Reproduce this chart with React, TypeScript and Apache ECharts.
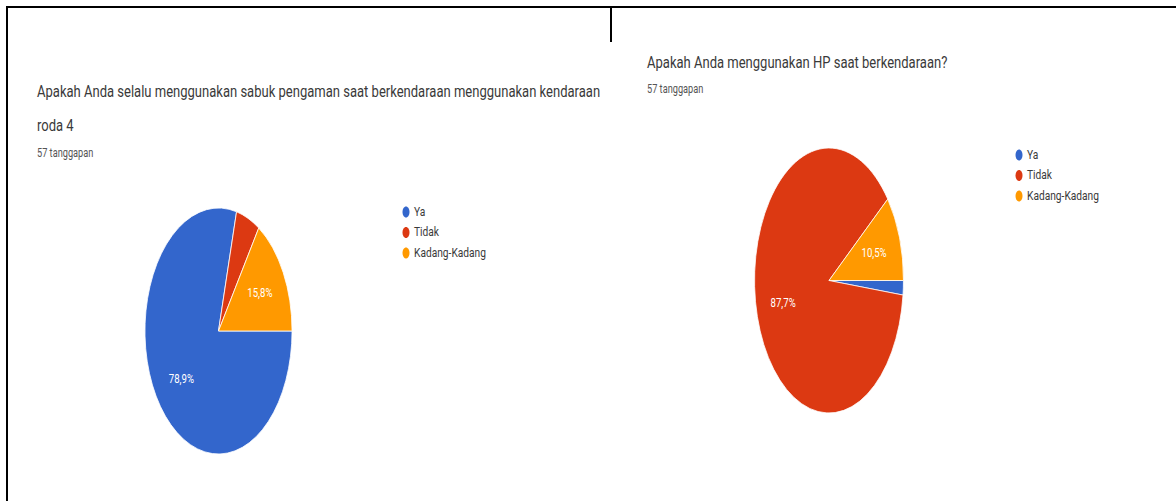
import React, { useEffect, useRef } from "react";
import * as echarts from "echarts";

// ---------- data ----------
const categories = ["Ya", "Tidak", "Kadang-Kadang"];
const seatbeltCounts = [45, 3, 9];
const phoneCounts = [1, 50, 6];
const sliceColors = ["#3366cc", "#dc3912", "#ff9900"];
const seatbeltTitleLines = [
  "Apakah Anda selalu menggunakan sabuk pengaman saat berkendaraan menggunakan kendaraan",
  "roda 4",
];
const phoneTitleLines = ["Apakah Anda menggunakan HP saat berkendaraan?"];
const responsesText = "57 tanggapan";

// ---------- layout ----------
const FONT = "Roboto, 'Noto Sans', sans-serif";
const measureCtx = (typeof document !== "undefined"
  ? document.createElement("canvas").getContext("2d")
  : null) as CanvasRenderingContext2D | null;

function textWidth(text: string, size: number): number {
  if (!measureCtx) return text.length * size * 0.5;
  measureCtx.font = `${size}px Roboto`;
  return measureCtx.measureText(text).width;
}

function pct(v: number, total: number): string {
  return (Math.round((v / total) * 1000) / 10).toFixed(1).replace(".", ",") + "%";
}

function pieSeries(
  counts: number[],
  cx: number,
  cy: number,
  rx: number,
  ry: number,
  labelScale: number
) {
  const total = counts.reduce((a, b) => a + b, 0);
  return {
    type: "custom",
    coordinateSystem: "none",
    silent: true,
    data: counts.map((v, i) => ({ value: v, name: categories[i] })),
    renderItem: (params: any, api: any) => {
      const i = params.dataIndex;
      let before = 0;
      for (let k = 0; k < i; k++) before += counts[k];
      const v = api.value(0);
      const a0 = (before / total) * Math.PI * 2;
      const a1 = ((before + v) / total) * Math.PI * 2;
      const children: any[] = [
        {
          type: "sector",
          x: cx,
          y: cy,
          scaleX: rx / ry,
          shape: { cx: 0, cy: 0, r0: 0, r: ry, startAngle: a0, endAngle: a1, clockwise: true },
          style: { fill: sliceColors[i], stroke: "#ffffff", lineWidth: 1, strokeNoScale: true },
        },
      ];
      if (v / total >= 0.08) {
        const m = (a0 + a1) / 2;
        const f = 0.64;
        children.push({
          type: "text",
          x: cx + rx * f * Math.cos(m),
          y: cy + ry * f * Math.sin(m),
          scaleX: labelScale,
          style: {
            text: pct(v, total),
            fill: "#ffffff",
            fontSize: 12,
            fontFamily: FONT,
            align: "center",
            verticalAlign: "middle",
          },
        });
      }
      return { type: "group", children };
    },
  };
}

export default function App() {
  const ref = useRef<HTMLDivElement>(null);

  useEffect(() => {
    if (!ref.current) return;
    const chart = echarts.init(ref.current, undefined, { renderer: "svg" });

    const titleSize = 17;
    const titleScale = 564 / textWidth(seatbeltTitleLines[0], titleSize);
    const subSize = 12;
    const legendSize = 12;
    const legendScale = 72 / textWidth(categories[2], legendSize);
    const labelScale = 0.8;

    const texts: any[] = [];
    const addText = (t: string, x: number, y: number, size: number, color: string, sc: number) =>
      texts.push({
        type: "text",
        x,
        y,
        scaleX: sc,
        silent: true,
        style: { text: t, fill: color, fontSize: size, fontFamily: FONT, verticalAlign: "middle" },
      });

    // left panel texts
    addText(seatbeltTitleLines[0], 37, 91, titleSize, "#3a3a3a", titleScale);
    addText(seatbeltTitleLines[1], 37, 125, titleSize, "#3a3a3a", titleScale);
    addText(responsesText, 37, 153, subSize, "#555555", titleScale);
    // right panel texts
    addText(phoneTitleLines[0], 647, 62, titleSize, "#3a3a3a", titleScale);
    addText(responsesText, 647, 89, subSize, "#555555", titleScale);

    // legends
    const legendAt = (x: number, y0: number) => {
      categories.forEach((c, i) => {
        const y = y0 + i * 20.5;
        texts.push({
          type: "ellipse",
          silent: true,
          shape: { cx: x, cy: y, rx: 3.5, ry: 5.5 },
          style: { fill: sliceColors[i] },
        });
        addText(c, x + 8, y, legendSize, "#3a3a3a", legendScale);
      });
    };
    legendAt(406, 212);
    legendAt(1019, 155);

    // table borders
    const lineStyle = { stroke: "#000000", lineWidth: 2 };
    const borders = [
      { type: "line", silent: true, shape: { x1: 7, y1: 7, x2: 1176, y2: 7 }, style: lineStyle },
      { type: "line", silent: true, shape: { x1: 7, y1: 6, x2: 7, y2: 501 }, style: lineStyle },
      { type: "line", silent: true, shape: { x1: 611, y1: 7, x2: 611, y2: 42 }, style: lineStyle },
    ];

    chart.setOption({
      animation: false,
      backgroundColor: "#ffffff",
      graphic: { elements: [...borders, ...texts] },
      series: [
        pieSeries(seatbeltCounts, 218.5, 331, 73.5, 123, labelScale),
        pieSeries(phoneCounts, 829, 280.5, 74.5, 132.5, labelScale),
      ],
    });

    return () => chart.dispose();
  }, []);

  return (
    <div
      ref={ref}
      style={{ position: "fixed", left: 0, top: 0, width: 1176, height: 501, background: "#fff" }}
    />
  );
}
